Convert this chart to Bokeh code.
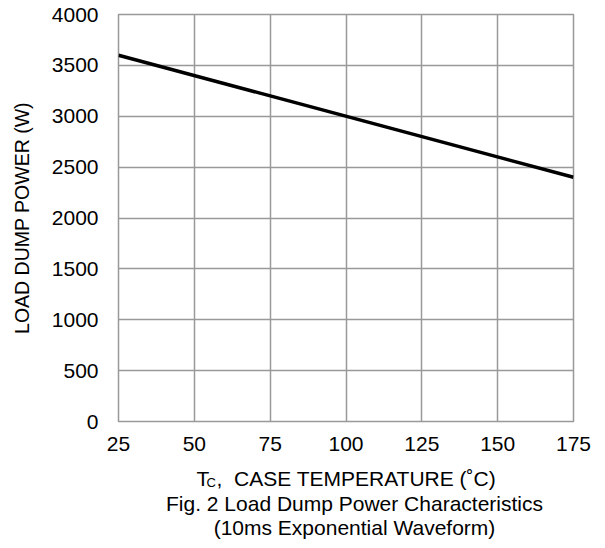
from bokeh.plotting import figure
from bokeh.models import Range1d, FixedTicker
from bokeh.layouts import column
from bokeh.core.properties import value
from bokeh.embed import file_html
from bokeh.resources import INLINE

temps = [25, 175]
power = [3600, 2400]
x_ticks = [25, 50, 75, 100, 125, 150, 175]
y_ticks = [0, 500, 1000, 1500, 2000, 2500, 3000, 3500, 4000]
y_title = "LOAD DUMP POWER (W)"
x_title_main = "T"
x_title_sub = "C"
x_title_rest = ", \u00a0CASE TEMPERATURE (\u02daC)"
caption_1 = "Fig. 2 Load Dump Power Characteristics"
caption_2 = "(10ms Exponential Waveform)"

FONT = "Liberation Sans"
GRID = "#999999"
W = 597

xr = Range1d(25, 175)
p = figure(width=W, height=458, output_backend="svg", toolbar_location=None,
           x_range=xr, y_range=Range1d(0, 4000),
           min_border_left=118, min_border_right=24, min_border_top=14, min_border_bottom=37)

p.xaxis.ticker = FixedTicker(ticks=x_ticks)
p.yaxis.ticker = FixedTicker(ticks=y_ticks)
for ax in (p.xaxis, p.yaxis):
    ax.axis_line_color = None
    ax.major_tick_line_color = None
    ax.minor_tick_line_color = None
    ax.major_label_text_font = FONT
    ax.major_label_text_font_size = "21px"
    ax.major_label_text_color = "black"
p.xaxis.major_label_standoff = 9
p.yaxis.major_label_standoff = 14

p.yaxis.axis_label = y_title
p.yaxis.axis_label_text_font = FONT
p.yaxis.axis_label_text_font_size = "19.5px"
p.yaxis.axis_label_text_font_style = "normal"
p.yaxis.axis_label_text_color = "black"
p.yaxis.axis_label_standoff = 16

p.xgrid.grid_line_color = GRID
p.ygrid.grid_line_color = GRID
p.xgrid.grid_line_width = 1.5
p.ygrid.grid_line_width = 1.5
p.outline_line_color = GRID
p.outline_line_width = 1.5

p.line(temps, power, line_color="black", line_width=3.5)

# caption panel: x shares the temperature scale, y in pixels downward
CH = 86
c = figure(width=W, height=CH, output_backend="svg", toolbar_location=None,
           x_range=xr, y_range=Range1d(CH, 0),
           x_axis_type=None, y_axis_type=None, min_border=0)
c.outline_line_color = None
c.xgrid.visible = False
c.ygrid.visible = False

def txt(x, y, t, size, align):
    c.text(x=[x], y=[y], text=[t], text_font=value(FONT), text_font_size=size,
           text_align=align, text_baseline="alphabetic", text_color="black")

txt(50.71, 20, x_title_main, "21px", "left")
txt(54.0, 24, x_title_sub, "13px", "left")
txt(57.31, 20, x_title_rest, "21px", "left")
txt(102.8, 45, caption_1, "21px", "center")
txt(102.8, 69, caption_2, "21px", "center")

layout = column(p, c, spacing=0)
open("out.html", "w").write(file_html(layout, INLINE))
